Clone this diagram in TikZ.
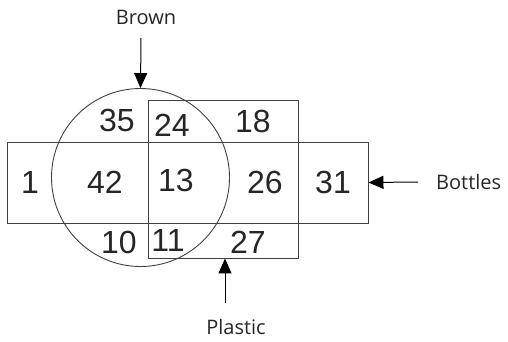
\documentclass[tikz,border=0pt]{standalone}
\usepackage{fontspec}
\setmainfont{Liberation Sans}
\newfontfamily\labelfont{Open Sans}
\usetikzlibrary{arrows.meta}
\begin{document}
\begin{tikzpicture}[x=1pt,y=-1pt,
  shapeline/.style={draw=black!75,line width=0.9pt},
  num/.style={font=\fontsize{32}{32}\selectfont,inner sep=0pt,text=black!85},
  lab/.style={font=\labelfont\fontsize{20}{20}\selectfont,inner sep=1pt,text=black!85},
  pointer/.style={draw=black,line width=1pt,-{Triangle[length=15pt,width=13pt]}}]
\useasboundingbox (0,0) rectangle (508,342);
\node[shapeline,rectangle,minimum width=361pt,minimum height=81pt,inner sep=0pt] (bottlesbox) at (187.5,182.5) {};
\node[shapeline,rectangle,minimum width=150pt,minimum height=158pt,inner sep=0pt] (plasticbox) at (223,179) {};
\node[shapeline,circle,minimum size=178pt,inner sep=0pt] (browncircle) at (140.5,177.5) {};
\node[num] (n35) at (117,120) {35};
\node[num] (n24) at (172,125) {24};
\node[num] (n18) at (253,121) {18};
\node[num] (n1) at (30,182) {1};
\node[num] (n42) at (105,182) {42};
\node[num] (n13) at (176,180) {13};
\node[num] (n26) at (265,182) {26};
\node[num] (n31) at (333,182) {31};
\node[num] (n10) at (119,242) {10};
\node[num] (n11) at (168,240) {11};
\node[num] (n27) at (248,242) {27};
\node[lab] (brown) at (146,17) {Brown};
\node[lab,anchor=west] (bottles) at (435,182) {Bottles};
\node[lab] (plastic) at (236,327) {Plastic};
\coordinate (browntail) at (141,38);
\coordinate (bottlestail) at (418,182);
\coordinate (plastictail) at (225,303);
\draw[pointer] (browntail) -- (browncircle.north);
\draw[pointer] (bottlestail) -- (bottlesbox.east);
\draw[pointer] (plastictail) -- (plastictail |- plasticbox.south);
\end{tikzpicture}
\end{document}
